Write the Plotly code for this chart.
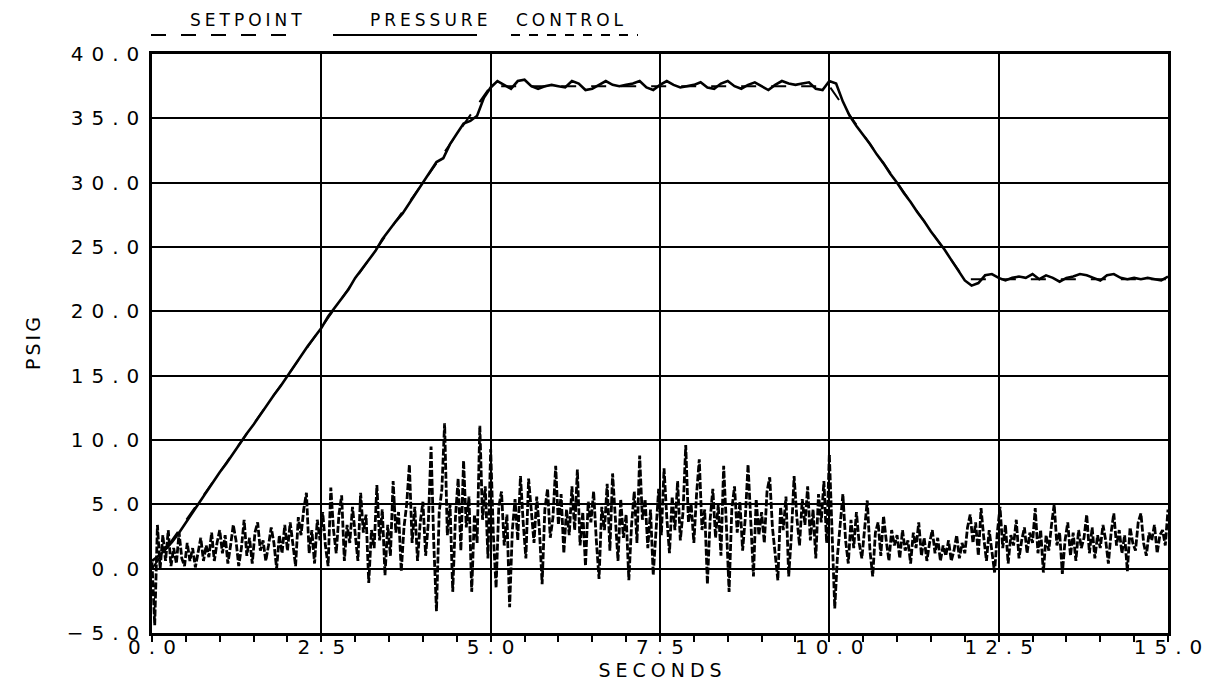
import numpy as np
import plotly.graph_objects as go

# ---------------- data ----------------
setpoint_t = [0.0, 5.0, 10.0, 12.0, 15.0]
setpoint_psig = [0.0, 37.5, 37.5, 22.5, 22.5]

pressure_dt = 0.1
pressure_psig = [
    0.6, 1.0, 1.5, 2.1, 2.8, 3.6, 4.4, 5.2, 6.0, 6.8,
    7.5, 8.2, 9.0, 9.8, 10.5, 11.2, 12.0, 12.8, 13.5, 14.2,
    15.0, 15.8, 16.5, 17.3, 18.0, 18.7, 19.6, 20.3, 21.0, 21.7,
    22.6, 23.3, 24.0, 24.7, 25.6, 26.3, 27.0, 27.6, 28.4, 29.2,
    30.0, 30.8, 31.6, 31.9, 33.0, 33.8, 34.6, 34.8, 35.2, 36.6,
    37.4, 37.9, 37.6, 37.3, 37.9, 38.0, 37.5, 37.3, 37.5, 37.6,
    37.5, 37.4, 37.9, 37.7, 37.2, 37.3, 37.6, 37.9, 37.6, 37.5,
    37.6, 37.7, 37.9, 37.4, 37.2, 37.6, 37.9, 37.6, 37.4, 37.5,
    37.6, 37.8, 37.4, 37.3, 37.7, 37.9, 37.5, 37.3, 37.6, 37.8,
    37.5, 37.2, 37.6, 37.9, 37.7, 37.6, 37.7, 37.8, 37.3, 37.2,
    37.9, 37.7, 36.3, 35.2, 34.4, 33.7, 33.0, 32.2, 31.5, 30.7,
    30.0, 29.2, 28.5, 27.7, 27.0, 26.2, 25.5, 24.8, 24.0, 23.2,
    22.4, 22.0, 22.2, 22.8, 22.9, 22.6, 22.4, 22.6, 22.7, 22.6,
    22.9, 22.5, 22.8, 22.6, 22.3, 22.6, 22.7, 22.9, 22.8, 22.6,
    22.4, 22.8, 22.9, 22.6, 22.5, 22.6, 22.5, 22.6, 22.5, 22.4,
    22.7,
]

control_dt = 0.04
control_s00 = [0.5, -4.4, 3.4, 0.0, 2.6, 0.6, 3.0, 0.2, 1.6, 0.4, 2.8, 0.8, 0.2, 2.0, 0.6, 1.6, 0.1, 1.2, 2.4, 0.6, 1.8, 0.9, 2.8, 0.6, 2.0]
control_s01 = [3.0, 1.2, 2.6, 0.4, 1.8, 3.4, 2.2, 0.2, 1.6, 3.8, 1.0, 2.4, 0.4, 2.8, 3.6, 1.4, 2.2, 0.6, 1.8, 3.2, 2.0, 0.0, 2.6, 1.2, 3.4]
control_s02 = [1.4, 3.6, 2.0, 0.2, 4.0, 2.6, 4.6, 5.9, 1.2, 3.0, 0.4, 3.8, 2.2, 4.4, 1.8, 0.2, 6.3, 3.0, 1.2, 4.2, 5.7, 0.6, 3.4, 2.0, 4.8]
control_s03 = [2.4, 0.6, 5.9, 2.8, 4.2, -1.1, 3.0, 1.6, 6.5, 2.2, 4.6, -0.5, 3.4, 1.0, 6.8, 2.8, 4.4, -0.2, 3.2, 5.0, 8.1, 2.0, 4.8, 0.6, 3.6]
control_s04 = [5.2, 1.0, 3.6, 9.5, 2.0, -3.3, 4.4, 6.2, 11.3, 2.6, 5.0, -1.8, 4.0, 7.0, 1.4, 8.4, 3.2, 5.6, -1.8, 4.2, 2.0, 11.1, 3.8, 6.4, 0.8]
control_s05 = [9.3, 2.6, -1.5, 4.8, 6.0, 1.8, 4.2, -3.0, 3.0, 5.4, 2.2, 7.2, 3.6, 0.8, 7.0, 4.4, 2.0, 5.6, 3.0, -1.2, 4.6, 6.2, 2.4, 4.0, 8.0]
control_s06 = [3.4, 5.8, 1.2, 4.6, 2.6, 6.4, 3.0, 7.7, 1.8, 4.4, 0.2, 5.2, 3.6, 6.0, 2.2, -0.8, 4.8, 3.0, 6.6, 1.4, 7.4, 3.8, 0.6, 5.4, 2.4]
control_s07 = [4.2, -0.9, 3.4, 6.0, 2.0, 8.8, 3.8, 5.4, 1.6, 4.6, -0.5, 3.2, 6.2, 2.6, 7.8, 4.0, 1.2, 5.6, 3.0, 6.8, 2.2, 4.4, 9.6, 3.6, 5.0]
control_s08 = [2.0, 5.8, 8.5, 3.0, 4.6, -1.2, 3.8, 6.2, 2.4, 5.0, 1.0, 8.0, 3.4, -1.8, 4.6, 6.4, 2.8, 5.2, 1.4, 4.0, 8.1, 3.2, -0.6, 5.4, 2.6]
control_s09 = [4.4, 2.0, 6.0, 7.1, 3.2, 1.4, -0.9, 4.8, 3.0, 5.6, -0.6, 2.6, 7.2, 4.0, 1.8, 5.4, 3.4, 6.4, 2.2, 4.6, 0.8, 5.8, 3.6, 6.8, 2.0]
control_s10 = [8.9, 3.0, -3.1, 1.0, 3.6, 5.8, 2.2, 0.4, 3.8, 1.6, 4.4, 2.0, 0.8, 3.2, 5.3, 1.4, -0.6, 2.8, 3.6, 1.0, 4.1, 2.2, 0.6, 3.0, 1.8]
control_s11 = [2.6, 0.8, 3.0, 1.4, 2.2, 0.4, 2.8, 1.6, 3.6, 1.0, 2.4, 0.6, 2.0, 3.0, 1.2, 2.4, 0.6, 1.8, 1.0, 2.2, 0.6, 1.4, 2.6, 0.8, 2.0]
control_s12 = [1.2, 3.2, 4.2, 2.0, 3.6, 1.0, 4.7, 2.4, 0.6, 3.0, 1.4, -0.3, 2.8, 4.8, 1.6, 3.4, 0.4, 2.6, 1.8, 3.8, 0.8, 2.2, 3.2, 1.2, 2.8]
control_s13 = [2.0, 4.7, 1.2, 3.0, -0.3, 2.6, 1.4, 3.4, 5.0, 1.8, 2.8, -0.4, 2.2, 3.6, 1.0, 2.8, 0.6, 3.0, 1.6, 2.4, 4.2, 1.2, 3.2, 0.8, 2.6]
control_s14 = [1.6, 3.4, 2.2, 0.4, 2.8, 4.3, 1.8, 3.0, 1.2, 2.6, -0.2, 3.2, 2.0, 1.4, 3.6, 4.3, 2.0, 1.0, 2.8, 2.2, 3.4, 1.2, 2.6, 3.0, 1.8, 4.6]

x_tickvals = [0, 2.5, 5, 7.5, 10, 12.5, 15]
x_ticktext = ["0.0", "2.5", "5.0", "7.5", "10.0", "12.5", "15.0"]
y_tickvals = [-5, 0, 5, 10, 15, 20, 25, 30, 35, 40]
y_ticktext = ["\u22125.0", "0.0", "5.0", "10.0", "15.0", "20.0", "25.0", "30.0", "35.0", "40.0"]

# ---------------- build ----------------
control_psig = (control_s00 + control_s01 + control_s02 + control_s03 + control_s04 +
                control_s05 + control_s06 + control_s07 + control_s08 + control_s09 +
                control_s10 + control_s11 + control_s12 + control_s13 + control_s14)
control_t = np.round(np.arange(len(control_psig)) * control_dt, 3)
pressure_t = np.round(np.arange(len(pressure_psig)) * pressure_dt, 3)


def spaced(s, px=8):
    # wide plotter-style lettering; no trailing spacing after the last glyph
    return f"<span style='letter-spacing:{px}px'>{s[:-1]}</span>{s[-1]}"


FONT = "DejaVu Sans"

fig = go.Figure()
fig.add_trace(go.Scatter(x=setpoint_t, y=setpoint_psig, mode="lines", name="SETPOINT",
                         line=dict(color="black", width=2, dash="longdash")))
fig.add_trace(go.Scatter(x=pressure_t, y=pressure_psig, mode="lines", name="PRESSURE",
                         line=dict(color="black", width=2.6)))
fig.add_trace(go.Scatter(x=control_t, y=control_psig, mode="lines", name="CONTROL",
                         line=dict(color="black", width=2.8, dash="7px,2px")))

fig.update_layout(
    width=1214, height=684,
    margin=dict(l=152, r=46, t=54, b=51, pad=0, autoexpand=False),
    paper_bgcolor="white", plot_bgcolor="white",
    showlegend=False,
    font=dict(family=FONT, color="black", size=20),
)
fig.update_xaxes(
    range=[0, 15], tickvals=x_tickvals, ticktext=[spaced(t) for t in x_ticktext],
    automargin=False,
    showgrid=True, gridcolor="black", gridwidth=2,
    showline=True, linecolor="black", linewidth=2.5, mirror=True,
    ticks="outside", ticklen=6, tickwidth=1.5, tickcolor="black",
    minor=dict(dtick=0.5, ticks="outside", ticklen=6, tickwidth=1.5, tickcolor="black", showgrid=False),
    tickfont=dict(family=FONT, size=20),
    ticklabelstandoff=-12,
    zeroline=False,
    title=dict(text=spaced("SECONDS", 5), font=dict(family=FONT, size=19), standoff=0),
)
fig.update_yaxes(
    range=[-5, 40], tickvals=y_tickvals, ticktext=[spaced(t) for t in y_ticktext],
    automargin=False,
    showgrid=True, gridcolor="black", gridwidth=2,
    showline=True, linecolor="black", linewidth=2.5, mirror=True,
    ticks="", zeroline=False,
    tickfont=dict(family=FONT, size=20),
    ticklabelstandoff=6,
    title=dict(text=spaced("PSIG", 3), font=dict(family=FONT, size=19), standoff=22),
)

# legend drawn as text with underline samples (like the plotter legend)
def px_x(p):
    return (p - 152) / 1016.0
def px_y(p):
    return (633 - p) / 579.0

legend_items = [
    ("SETPOINT", 188, 151, 300, "longdash"),
    ("PRESSURE", 368, 333, 477, "solid"),
    ("CONTROL", 514, 511, 638, "dash"),
]
for label, tx, u0, u1, dash in legend_items:
    fig.add_annotation(x=px_x(tx), y=px_y(20), xref="paper", yref="paper",
                       text=spaced(label, 4), showarrow=False,
                       xanchor="left", yanchor="middle",
                       font=dict(family=FONT, size=17, color="black"))
    fig.add_shape(type="line", xref="paper", yref="paper",
                  x0=px_x(u0), x1=px_x(u1), y0=px_y(35), y1=px_y(35),
                  line=dict(color="black", width=2, dash=dash))

fig.write_html("out.html")
